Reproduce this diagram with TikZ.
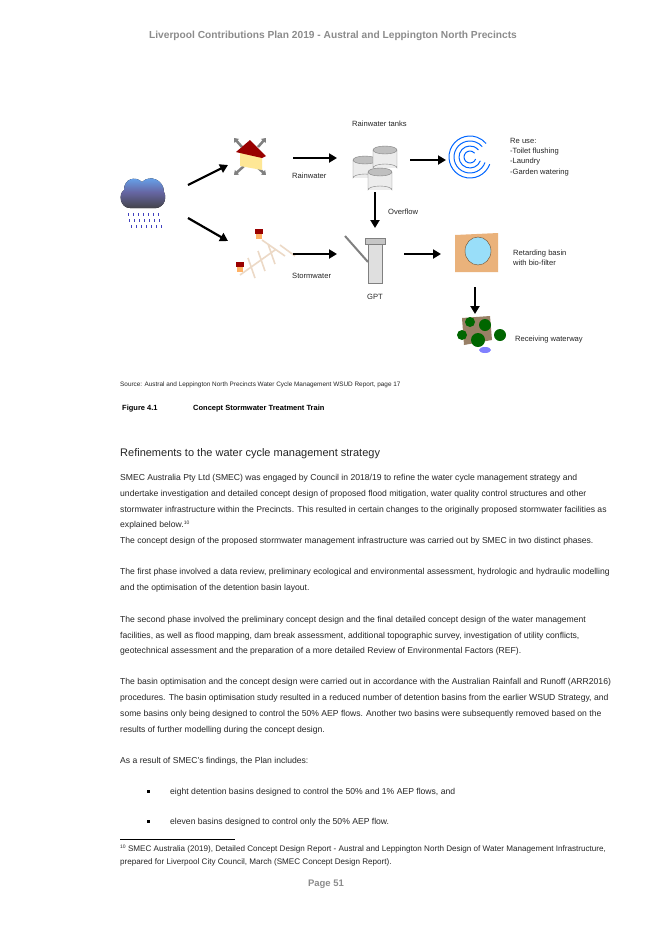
\documentclass[tikz,border=0pt]{standalone}
\usepackage{fontspec}
\setmainfont{Liberation Sans}
\usetikzlibrary{arrows.meta}
\definecolor{hdr}{gray}{0.55}
\definecolor{txt}{gray}{0.15}
\tikzset{
 body/.style={anchor=base west,inner sep=0,font=\fontsize{8.6}{10}\selectfont,text=txt},
 foot/.style={anchor=base west,inner sep=0,font=\fontsize{8.1}{10}\selectfont,text=txt},
 lab/.style={anchor=base west,inner sep=0,font=\fontsize{7.6}{8}\selectfont,text=txt},
 flow/.style={line width=2.2pt,-{Triangle[length=8pt,width=9pt]}},
 garrow/.style={line width=2.5pt,gray,-{Triangle[length=4pt,width=6pt]}},
}
\begin{document}
\begin{tikzpicture}[x=1pt,y=-1pt]
\useasboundingbox (0,0) rectangle (653,930);
\fill[white] (0,0) rectangle (653,930);
% header
\node (hd) at (333,36) [inner sep=0,font=\bfseries\fontsize{10.2}{12}\selectfont,text=hdr] {Liverpool Contributions Plan 2019 - Austral and Leppington North Precincts};
% ---- diagram icons ----
% cloud
\fill[top color=cyan!50!blue!60,bottom color=black!75,middle color=blue!40!black!60] (124,190) .. controls (124,178) and (136,176) .. (142,182) .. controls (150,174) and (164,180) .. (164,192) .. controls (168,200) and (162,210) .. (152,208) -- (130,208) .. controls (120,208) and (118,194) .. (124,190) -- cycle;
\foreach \i in {0,...,6}{\foreach \j in {0,1,2}{\draw[blue!50!gray,line width=1pt] ({128+5*\i+\j*1.5},{213+\j*6}) -- ++(0,3);}}
% house
\draw[garrow] (242,147) -- (234,138);
\draw[garrow] (258,147) -- (266,138);
\draw[garrow] (244,166) -- (234,175);
\draw[garrow] (256,166) -- (266,175);
\fill[yellow!60!orange!40] (240,152) -- (262,156) -- (262,170) -- (240,166) -- cycle;
\fill[red!60!black] (236,152) -- (250,140) -- (266,156) -- (262,158)-- (240,153) -- cycle;
% tanks
\foreach \cx/\cy in {365/160,385/150,380/172}{
 \fill[gray!15] (\cx-12,\cy) rectangle (\cx+12,\cy+18);
 \draw[gray] (\cx-12,\cy) -- (\cx-12,\cy+18) arc (180:360:12 and 4) -- (\cx+12,\cy);
 \fill[gray!50,draw=gray] (\cx,\cy) ellipse (12 and 4);}
% spiral
\foreach \r in {6,11,16,21}{\draw[blue!60!cyan,line width=1pt] (470,157) ++(20:\r) arc (20:320:\r);}
% roads
\draw[brown!30,line width=1.6pt] (240,275) -- (275,250) (248,258)--(255,278) (258,251)--(265,271) (268,244)--(275,264) (262,240)--(285,256) (280,245)--(295,256);
\fill[red!60!black] (236,262) rectangle (244,267); \fill[orange!60] (237,267) rectangle (243,272);
\fill[red!60!black] (255,229) rectangle (263,234); \fill[orange!60] (256,234) rectangle (262,239);
% GPT
\draw[gray,line width=2pt] (345,236) -- (368,262);
\fill[gray!25,draw=gray] (368,240) rectangle (382,283);
\fill[gray!45,draw=gray] (365,238) rectangle (385,244);
% basin
\fill[brown!55!orange!60] (455,235) -- (498,233) -- (498,272) -- (455,272) -- cycle;
\fill[cyan!40,draw=brown!60!black] (478,251) ellipse (13 and 14);
% waterway
\fill[gray!60!brown] (462,318) -- (490,316) -- (492,340) -- (464,345) -- cycle;
\fill[green!40!black] (470,322) circle (5) (485,325) circle (6) (500,335) circle (6) (478,340) circle (7) (462,335) circle (5);
\fill[blue!50] (485,350) ellipse (6 and 3);
% arrows
\coordinate (a1) at (188,185); \coordinate (b1) at (228,165);
\coordinate (a2) at (188,218); \coordinate (b2) at (228,241);
\coordinate (a3) at (293,158); \coordinate (b3) at (337,158);
\coordinate (a4) at (410,160); \coordinate (b4) at (446,160);
\coordinate (a5) at (375,192); \coordinate (b5) at (375,228);
\coordinate (a6) at (293,254); \coordinate (b6) at (337,254);
\coordinate (a7) at (404,254); \coordinate (b7) at (441,254);
\coordinate (a8) at (475,287); \coordinate (b8) at (475,314);
\foreach \k in {1,...,8}{\draw[flow] (a\k) -- (b\k);}
% labels
\node[lab] (l1) at (352,126) {Rainwater tanks};
\node[lab] (l2) at (292,178) {Rainwater};
\node[lab] (l3) at (510,143) {Re use:};
\node[lab] (l4) at (510,153) {-Toilet flushing};
\node[lab] (l5) at (510,163) {-Laundry};
\node[lab] (l6) at (510,174) {-Garden watering};
\node[lab] (l7) at (388,214) {Overflow};
\node[lab] (l8) at (292,278) {Stormwater};
\node[lab] (l9) at (367,299) {GPT};
\node[lab] (l10) at (513,255) {Retarding basin};
\node[lab] (l11) at (513,265) {with bio-filter};
\node[lab] (l12) at (515,341) {Receiving waterway};
% captions
\node[anchor=base west,inner sep=0,font=\fontsize{6.4}{7}\selectfont,text=txt] (src) at (120,386) {Source: Austral and Leppington North Precincts Water Cycle Management WSUD Report, page 17};
\node[anchor=base west,inner sep=0,font=\bfseries\fontsize{7.5}{9}\selectfont] (fig) at (122,410) {Figure 4.1};
\node[anchor=base west,inner sep=0,font=\bfseries\fontsize{7.5}{9}\selectfont] (figt) at (193,410) {Concept Stormwater Treatment Train};
\node[anchor=base west,inner sep=0,font=\fontsize{11}{13}\selectfont,text=txt] (h2) at (120,456) {Refinements to the water cycle management strategy};
% body
\node[body] (p1) at (120,480) {SMEC Australia Pty Ltd (SMEC) was engaged by Council in 2018/19 to refine the water cycle management strategy and};
\node[body] (p2) at (120,496) {undertake investigation and detailed concept design of proposed flood mitigation, water quality control structures and other};
\node[body] (p3) at (120,512) {stormwater infrastructure within the Precincts. This resulted in certain changes to the originally proposed stormwater facilities as};
\node[body] (p4) at (120,527) {explained below.\raisebox{3pt}{\fontsize{5}{6}\selectfont 10}};
\node[body] (p5) at (120,543) {The concept design of the proposed stormwater management infrastructure was carried out by SMEC in two distinct phases.};
\node[body] (p6) at (120,574) {The first phase involved a data review, preliminary ecological and environmental assessment, hydrologic and hydraulic modelling};
\node[body] (p7) at (120,590) {and the optimisation of the detention basin layout.};
\node[body] (p8) at (120,622) {The second phase involved the preliminary concept design and the final detailed concept design of the water management};
\node[body] (p9) at (120,638) {facilities, as well as flood mapping, dam break assessment, additional topographic survey, investigation of utility conflicts,};
\node[body] (p10) at (120,653) {geotechnical assessment and the preparation of a more detailed Review of Environmental Factors (REF).};
\node[body] (p11) at (120,684) {The basin optimisation and the concept design were carried out in accordance with the Australian Rainfall and Runoff (ARR2016)};
\node[body] (p12) at (120,700) {procedures. The basin optimisation study resulted in a reduced number of detention basins from the earlier WSUD Strategy, and};
\node[body] (p13) at (120,716) {some basins only being designed to control the 50\% AEP flows. Another two basins were subsequently removed based on the};
\node[body] (p14) at (120,732) {results of further modelling during the concept design.};
\node[body] (p15) at (120,763) {As a result of SMEC’s findings, the Plan includes:};
\fill (147,790) rectangle (150,793); \fill (147,820) rectangle (150,823);
\node[body] (b1t) at (170,794) {eight detention basins designed to control the 50\% and 1\% AEP flows, and};
\node[body] (b2t) at (170,824) {eleven basins designed to control only the 50\% AEP flow.};
\draw[line width=0.4pt] (120,839) -- (235,839);
\node[foot] (f1) at (120,851) {\raisebox{3pt}{\fontsize{5}{6}\selectfont 10} SMEC Australia (2019), Detailed Concept Design Report - Austral and Leppington North Design of Water Management Infrastructure,};
\node[foot] (f2) at (120,864) {prepared for Liverpool City Council, March (SMEC Concept Design Report).};
\node (pg) at (326,884) [inner sep=0,font=\bfseries\fontsize{9.5}{11}\selectfont,text=hdr] {Page 51};
\end{tikzpicture}
\end{document}
